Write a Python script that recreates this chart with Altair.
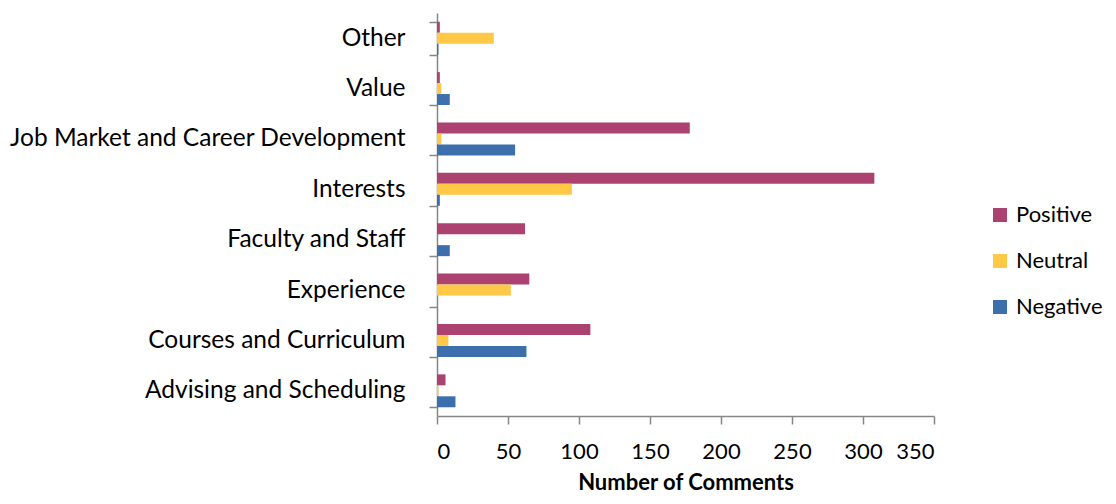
import altair as alt
import pandas as pd

categories = [
    "Other",
    "Value",
    "Job Market and Career Development",
    "Interests",
    "Faculty and Staff",
    "Experience",
    "Courses and Curriculum",
    "Advising and Scheduling",
]
series = ["Positive", "Neutral", "Negative"]
positive = [2, 2, 178, 308, 62, 65, 108, 6]
neutral = [40, 3, 3, 95, 0, 52, 8, 1]
negative = [1, 9, 55, 2, 9, 0, 63, 13]
colors = ["#AC4270", "#FFC846", "#3C6FAC"]

rows = []
for i, c in enumerate(categories):
    for s, vals in zip(series, [positive, neutral, negative]):
        rows.append({"Category": c, "Sentiment": s, "Count": vals[i]})
df = pd.DataFrame(rows)

FONT = "Lato"
AXIS_GRAY = "#868686"

chart = (
    alt.Chart(df)
    .mark_bar()
    .encode(
        x=alt.X(
            "Count:Q",
            scale=alt.Scale(domain=[0, 350], nice=False),
            axis=alt.Axis(
                title="Number of Comments",
                values=[0, 50, 100, 150, 200, 250, 300, 350],
                grid=False,
                tickSize=8,
                tickColor=AXIS_GRAY,
                domainColor=AXIS_GRAY,
                domainWidth=1.5,
                tickWidth=1.5,
                labelFont=FONT,
                labelFontSize=22,
                labelColor="#000000",
                labelPadding=17,
                titleFont=FONT,
                titleFontSize=22,
                titleFontWeight="bold",
                titleColor="#000000",
                titlePadding=10,
            ),
        ),
        y=alt.Y(
            "Category:N",
            sort=categories,
            scale=alt.Scale(paddingInner=0.3465, paddingOuter=0.173),
            axis=alt.Axis(
                title=None,
                grid=False,
                tickBand="extent",
                tickSize=8,
                tickColor=AXIS_GRAY,
                domainColor=AXIS_GRAY,
                domainWidth=1.5,
                tickWidth=1.5,
                labelFont=FONT,
                labelFontSize=24.5,
                labelColor="#000000",
                labelPadding=24,
                labelLimit=600,
            ),
        ),
        yOffset=alt.YOffset(
            "Sentiment:N",
            sort=series,
            scale=alt.Scale(paddingInner=0, paddingOuter=0),
        ),
        color=alt.Color(
            "Sentiment:N",
            sort=series,
            scale=alt.Scale(domain=series, range=colors),
            legend=alt.Legend(
                title=None,
                orient="none",
                legendX=552,
                legendY=191,
                symbolType="square",
                symbolSize=196,
                symbolStrokeWidth=0,
                labelFont=FONT,
                labelFontSize=22,
                labelColor="#000000",
                rowPadding=24,
                labelOffset=5,
            ),
        ),
    )
    .properties(
        width=497,
        height=403,
        autosize=alt.AutoSizeParams(type="none"),
        padding={"left": 429, "top": 5, "right": 174, "bottom": 80},
    )
    .configure_view(stroke=None)
)

chart.save("out.html", embed_options={"renderer": "svg", "actions": False})
